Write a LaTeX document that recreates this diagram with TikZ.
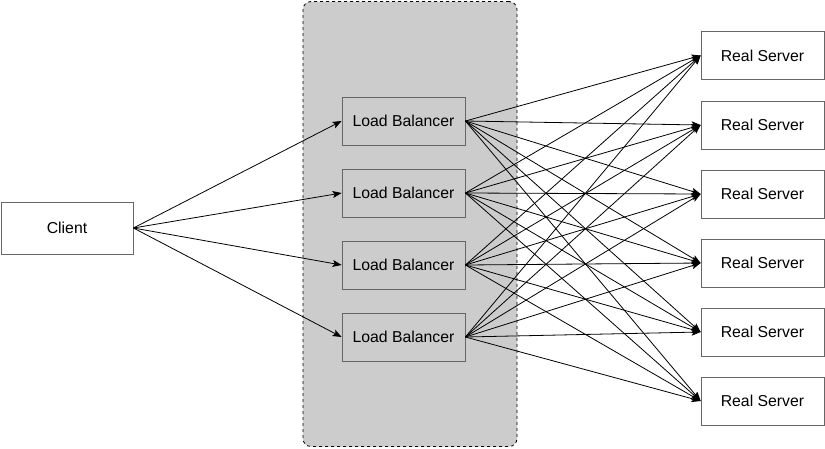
\documentclass[tikz,border=0pt]{standalone}
\usepackage{fontspec}
\setmainfont{Liberation Sans}
\usetikzlibrary{arrows.meta}
\begin{document}
\begin{tikzpicture}[x=1pt,y=-1pt,
  box/.style={draw=black!60,line width=0.8pt,minimum width=123pt,minimum height=48pt,inner sep=0pt,font=\fontsize{15.8}{18}\selectfont},
  lbbox/.style={box,fill=black!20},
  rsbox/.style={box,fill=white},
  conn/.style={line width=0.8pt,-{Stealth[length=9pt,width=7pt,inset=2pt]}}]
\useasboundingbox (0,0) rectangle (825,448);
\node[draw=black,dashed,fill=black!20,rounded corners=8pt,line width=0.8pt,minimum width=214pt,minimum height=445pt,inner sep=0pt] (grp) at (410,224) {};
\node[rsbox,minimum width=132pt,minimum height=52pt] (client) at (67,228) {Client};
\foreach \i/\y in {1/121,2/193,3/265,4/337}{
  \node[lbbox] (lb\i) at (403.5,\y) {Load Balancer};
}
\foreach \j/\y in {1/55.5,2/125,3/194,4/263,5/332,6/401}{
  \node[rsbox] (rs\j) at (762.5,\y) {Real Server};
}
\foreach \i in {1,...,4}{
  \draw[conn] (client.east) -- (lb\i.west);
  \foreach \j in {1,...,6}{
    \draw[conn] (lb\i.east) -- (rs\j.west);
  }
}
\end{tikzpicture}
\end{document}
